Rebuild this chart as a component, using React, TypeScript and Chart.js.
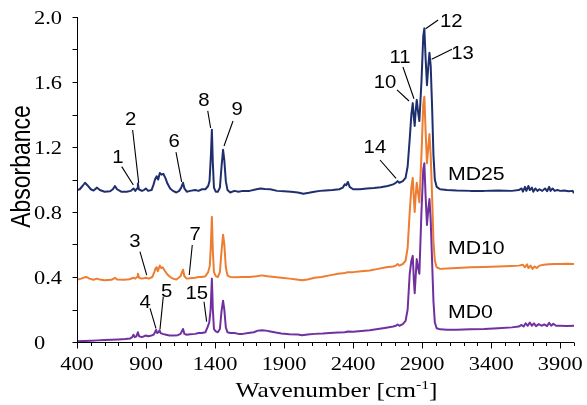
import { useEffect, useRef } from "react";
import { Chart, registerables } from "chart.js";

Chart.register(...registerables);

type Pt = [number, number];

// FTIR absorbance spectra: [wavenumber (cm-1), absorbance]
const md25: Pt[] = [
  [400, 0.935], [420, 0.94], [440, 0.96], [458, 0.98], [475, 0.965], [500, 0.94], [520, 0.932],
  [545, 0.95], [565, 0.935], [600, 0.925], [640, 0.928], [660, 0.94], [675, 0.96], [690, 0.94],
  [720, 0.925], [760, 0.925], [790, 0.93], [809, 0.945], [822, 0.93], [835, 0.945], [841, 0.975],
  [848, 0.94], [870, 0.93], [885, 0.935], [899, 0.945], [915, 0.93], [940, 0.935], [955, 0.97],
  [965, 1.0], [977, 1.02], [988, 1.0], [1000, 1.04], [1012, 1.03], [1025, 1.035], [1040, 1.01],
  [1055, 0.975], [1075, 0.945], [1095, 0.93], [1120, 0.92], [1140, 0.93], [1155, 0.95], [1168, 0.98],
  [1178, 0.945], [1195, 0.925], [1220, 0.93], [1256, 0.935], [1280, 0.93], [1305, 0.94], [1330, 0.94],
  [1350, 0.96], [1360, 0.99], [1370, 1.15], [1377, 1.306], [1384, 1.1], [1392, 0.95], [1405, 0.925],
  [1420, 0.925], [1435, 0.95], [1447, 1.08], [1458, 1.183], [1467, 1.12], [1478, 0.99], [1490, 0.935],
  [1510, 0.92], [1540, 0.93], [1570, 0.925], [1600, 0.93], [1650, 0.93], [1700, 0.94], [1730, 0.945],
  [1760, 0.942], [1800, 0.94], [1850, 0.93], [1900, 0.928], [1950, 0.925], [2000, 0.92], [2040, 0.912],
  [2080, 0.918], [2120, 0.925], [2160, 0.93], [2200, 0.932], [2250, 0.935], [2300, 0.94], [2325, 0.95],
  [2340, 0.97], [2350, 0.965], [2362, 0.985], [2375, 0.955], [2400, 0.94], [2450, 0.94], [2500, 0.945],
  [2550, 0.948], [2600, 0.952], [2650, 0.96], [2690, 0.97], [2710, 0.98], [2722, 0.99], [2735, 0.98],
  [2760, 0.99], [2780, 1.01], [2795, 1.08], [2810, 1.25], [2822, 1.4], [2832, 1.47], [2840, 1.38],
  [2846, 1.33], [2853, 1.42], [2861, 1.49], [2870, 1.42], [2880, 1.36], [2895, 1.6], [2908, 1.88],
  [2916, 1.93], [2925, 1.75], [2935, 1.58], [2945, 1.7], [2953, 1.78], [2962, 1.7], [2972, 1.45],
  [2982, 1.15], [2992, 1.0], [3005, 0.955], [3030, 0.94], [3080, 0.935], [3150, 0.932], [3250, 0.93],
  [3350, 0.93], [3450, 0.932], [3550, 0.93], [3600, 0.935], [3620, 0.945], [3630, 0.925], [3645, 0.955],
  [3655, 0.93], [3670, 0.96], [3680, 0.935], [3695, 0.95], [3705, 0.925], [3720, 0.945], [3735, 0.93],
  [3750, 0.94], [3770, 0.93], [3790, 0.945], [3805, 0.928], [3820, 0.955], [3830, 0.93], [3845, 0.945],
  [3860, 0.93], [3880, 0.935], [3900, 0.93], [3930, 0.932], [3960, 0.928], [3990, 0.93], [4000, 0.915],
];

const md10: Pt[] = [
  [400, 0.383], [430, 0.39], [455, 0.398], [470, 0.4], [490, 0.39], [520, 0.383], [545, 0.39],
  [565, 0.384], [600, 0.38], [650, 0.383], [675, 0.395], [690, 0.385], [740, 0.383], [780, 0.386],
  [809, 0.395], [822, 0.39], [835, 0.4], [841, 0.42], [850, 0.395], [870, 0.39], [899, 0.395],
  [920, 0.39], [945, 0.4], [960, 0.43], [970, 0.455], [977, 0.46], [985, 0.435], [993, 0.455],
  [1000, 0.47], [1010, 0.455], [1020, 0.46], [1035, 0.44], [1055, 0.415], [1075, 0.4], [1095, 0.39],
  [1120, 0.385], [1150, 0.405], [1168, 0.445], [1178, 0.405], [1195, 0.39], [1220, 0.392], [1256, 0.395],
  [1280, 0.4], [1305, 0.4], [1330, 0.405], [1350, 0.43], [1362, 0.47], [1370, 0.6], [1377, 0.77],
  [1384, 0.56], [1392, 0.43], [1405, 0.405], [1420, 0.4], [1435, 0.43], [1447, 0.56], [1458, 0.66],
  [1467, 0.6], [1478, 0.46], [1490, 0.41], [1510, 0.4], [1550, 0.398], [1600, 0.4], [1650, 0.4],
  [1700, 0.405], [1740, 0.41], [1780, 0.405], [1830, 0.4], [1880, 0.395], [1940, 0.39], [1990, 0.385],
  [2030, 0.38], [2070, 0.385], [2120, 0.395], [2170, 0.4], [2230, 0.41], [2290, 0.42], [2340, 0.425],
  [2362, 0.43], [2400, 0.43], [2460, 0.435], [2520, 0.44], [2580, 0.45], [2640, 0.46], [2690, 0.465],
  [2710, 0.47], [2722, 0.48], [2735, 0.47], [2760, 0.48], [2780, 0.5], [2795, 0.58], [2810, 0.8],
  [2822, 0.95], [2832, 1.01], [2840, 0.88], [2846, 0.8], [2853, 0.9], [2861, 0.98], [2870, 0.92],
  [2880, 0.86], [2895, 1.15], [2908, 1.46], [2916, 1.51], [2925, 1.3], [2935, 1.1], [2945, 1.2],
  [2953, 1.28], [2962, 1.15], [2972, 0.9], [2982, 0.62], [2992, 0.5], [3005, 0.46], [3030, 0.45],
  [3080, 0.452], [3150, 0.455], [3250, 0.46], [3350, 0.462], [3450, 0.465], [3550, 0.468], [3600, 0.47],
  [3630, 0.475], [3645, 0.46], [3660, 0.478], [3670, 0.455], [3685, 0.47], [3700, 0.45], [3715, 0.465],
  [3730, 0.455], [3750, 0.47], [3780, 0.475], [3820, 0.478], [3860, 0.48], [3900, 0.48], [3950, 0.482],
  [4000, 0.48],
];

const md0: Pt[] = [
  [400, 0.004], [450, 0.006], [500, 0.008], [550, 0.01], [600, 0.012], [650, 0.014], [700, 0.016],
  [750, 0.018], [785, 0.022], [800, 0.03], [809, 0.045], [818, 0.03], [830, 0.035], [841, 0.06],
  [850, 0.035], [870, 0.03], [899, 0.04], [915, 0.035], [940, 0.04], [955, 0.045], [965, 0.06],
  [973, 0.075], [980, 0.055], [990, 0.06], [998, 0.072], [1006, 0.055], [1020, 0.05], [1045, 0.045],
  [1070, 0.04], [1095, 0.04], [1130, 0.042], [1150, 0.05], [1168, 0.08], [1178, 0.05], [1195, 0.045],
  [1220, 0.048], [1256, 0.05], [1280, 0.055], [1305, 0.055], [1330, 0.06], [1345, 0.09], [1358, 0.12],
  [1368, 0.2], [1377, 0.39], [1384, 0.2], [1392, 0.08], [1405, 0.065], [1420, 0.06], [1435, 0.08],
  [1447, 0.19], [1458, 0.254], [1467, 0.2], [1478, 0.09], [1490, 0.06], [1510, 0.055], [1540, 0.055],
  [1570, 0.05], [1600, 0.05], [1640, 0.055], [1680, 0.06], [1710, 0.07], [1740, 0.072], [1770, 0.07],
  [1800, 0.065], [1840, 0.058], [1880, 0.052], [1940, 0.048], [2000, 0.046], [2030, 0.042], [2070, 0.046],
  [2120, 0.05], [2180, 0.052], [2230, 0.055], [2290, 0.058], [2340, 0.06], [2362, 0.065], [2400, 0.063],
  [2460, 0.068], [2520, 0.072], [2580, 0.08], [2640, 0.088], [2690, 0.095], [2710, 0.1], [2722, 0.108],
  [2735, 0.1], [2760, 0.11], [2780, 0.13], [2795, 0.2], [2810, 0.42], [2822, 0.5], [2832, 0.53],
  [2840, 0.38], [2846, 0.3], [2853, 0.4], [2861, 0.51], [2870, 0.46], [2880, 0.42], [2895, 0.8],
  [2908, 1.06], [2916, 1.1], [2925, 0.9], [2935, 0.72], [2945, 0.82], [2953, 0.88], [2962, 0.75],
  [2972, 0.5], [2982, 0.25], [2992, 0.12], [3005, 0.085], [3030, 0.078], [3080, 0.075], [3150, 0.075],
  [3250, 0.078], [3350, 0.08], [3450, 0.085], [3550, 0.09], [3600, 0.095], [3620, 0.105], [3635, 0.095],
  [3650, 0.115], [3665, 0.1], [3680, 0.12], [3695, 0.1], [3710, 0.115], [3725, 0.098], [3745, 0.11],
  [3765, 0.1], [3785, 0.108], [3805, 0.098], [3820, 0.118], [3835, 0.1], [3850, 0.112], [3870, 0.1],
  [3900, 0.1], [3950, 0.098], [4000, 0.1],
];

const seriesNames = ["MD0", "MD10", "MD25"];
const seriesColors = ["#7030a0", "#ed7d31", "#1f2f6e"];
const seriesData = [md0, md10, md25];

// Axis ticks
const xMajorTicks = [400, 900, 1400, 1900, 2400, 2900, 3400, 3900];
const xMinorStep = 100;
const yTickValues = [0, 0.2, 0.4, 0.6, 0.8, 1.0, 1.2, 1.4, 1.6, 1.8, 2.0];
const yLabelValues = [0, 0.4, 0.8, 1.2, 1.6, 2.0];
const yLabelTexts = ["0", "0.4", "0.8", "1.2", "1.6", "2.0"];

// Numbered band assignments: label spot, leader start, leader end (data units)
type Note = { text: string; at: Pt; from: Pt; to: Pt };
const peakNotes: Note[] = [
  { text: "1", at: [697, 1.14], from: [724, 1.079], to: [808, 0.966] },
  { text: "2", at: [789, 1.377], from: [803, 1.305], to: [847, 0.978] },
  { text: "6", at: [1103, 1.243], from: [1117, 1.169], to: [1158, 0.985] },
  { text: "8", at: [1320, 1.494], from: [1347, 1.422], to: [1368, 1.317] },
  { text: "9", at: [1561, 1.438], from: [1530, 1.36], to: [1465, 1.206] },
  { text: "10", at: [2631, 1.602], from: [2718, 1.551], to: [2805, 1.483] },
  { text: "11", at: [2740, 1.756], from: [2761, 1.692], to: [2841, 1.497] },
  { text: "12", at: [3111, 1.977], from: [3016, 1.982], to: [2925, 1.928] },
  { text: "13", at: [3192, 1.783], from: [3116, 1.801], to: [2969, 1.74] },
  { text: "14", at: [2558, 1.202], from: [2595, 1.12], to: [2711, 1.007] },
  { text: "3", at: [820, 0.628], from: [856, 0.556], to: [905, 0.412] },
  { text: "7", at: [1255, 0.669], from: [1235, 0.597], to: [1213, 0.412] },
  { text: "4", at: [893, 0.248], from: [929, 0.207], to: [972, 0.084] },
  { text: "5", at: [1050, 0.32], from: [1025, 0.279], to: [1001, 0.078] },
  { text: "15", at: [1267, 0.303], from: [1320, 0.248], to: [1339, 0.125] },
];

// Sample names written beside each trace (left edge, vertical middle)
const seriesTags: { text: string; at: Pt }[] = [
  { text: "MD25", at: [3087, 1.038] },
  { text: "MD10", at: [3087, 0.582] },
  { text: "MD0", at: [3087, 0.186] },
];

const SERIF = '"Liberation Serif", "Times New Roman", serif';
const SANS = '"Liberation Sans", Arial, sans-serif';
const WIDE = 1.18;

function wideText(
  ctx: CanvasRenderingContext2D,
  s: string,
  x: number,
  y: number,
  align: CanvasTextAlign,
  sx: number
) {
  ctx.save();
  ctx.translate(x, y);
  ctx.scale(sx, 1);
  ctx.textAlign = align;
  ctx.textBaseline = "alphabetic";
  ctx.fillText(s, 0, 0);
  ctx.restore();
}

const axesAndText = {
  id: "axesAndText",
  afterDraw(chart: any) {
    const ctx: CanvasRenderingContext2D = chart.ctx;
    const xs = chart.scales.x;
    const ys = chart.scales.y;
    const area = chart.chartArea;
    const L = Math.round(area.left) + 0.5;
    const B = Math.round(area.bottom) + 0.5;
    ctx.save();
    ctx.strokeStyle = "#000";
    ctx.fillStyle = "#000";
    ctx.lineWidth = 1;

    // axis lines
    ctx.beginPath();
    ctx.moveTo(L, Math.round(area.top));
    ctx.lineTo(L, B);
    ctx.lineTo(Math.round(area.right), B);
    ctx.stroke();

    // x ticks (major every 500, minor every 100)
    ctx.beginPath();
    for (let v = xs.min; v <= xs.max + 1e-6; v += xMinorStep) {
      const px = Math.round(xs.getPixelForValue(v)) + 0.5;
      const len = xMajorTicks.includes(v) ? 6 : 3.5;
      ctx.moveTo(px, B);
      ctx.lineTo(px, B + len);
    }
    // y ticks
    for (const v of yTickValues) {
      const py = Math.round(ys.getPixelForValue(v)) + 0.5;
      ctx.moveTo(L, py);
      ctx.lineTo(L - 5, py);
    }
    ctx.stroke();

    // tick labels
    ctx.font = `19px ${SERIF}`;
    xMajorTicks.forEach((v) => {
      wideText(ctx, String(v), xs.getPixelForValue(v), B + 27, "center", WIDE);
    });
    yLabelValues.forEach((v, i) => {
      wideText(ctx, yLabelTexts[i], area.left - 43, ys.getPixelForValue(v) + 6.5, "left", WIDE);
    });

    // y axis title
    ctx.save();
    ctx.font = `23px ${SANS}`;
    ctx.translate(30, (area.top + area.bottom) / 2 - 13);
    ctx.rotate(-Math.PI / 2);
    ctx.scale(1, 1.2);
    ctx.textAlign = "center";
    ctx.textBaseline = "alphabetic";
    ctx.fillText("Absorbance", 0, 0);
    ctx.restore();

    // x axis title with superscript
    {
      const main = "Wavenumber [cm";
      const sup = "-1";
      const end = "]";
      const fs = 21.5;
      ctx.font = `${fs}px ${SERIF}`;
      const wMain = ctx.measureText(main).width * WIDE;
      const wEnd = ctx.measureText(end).width * WIDE;
      ctx.font = `${fs * 0.62}px ${SERIF}`;
      const wSup = ctx.measureText(sup).width * WIDE;
      const total = wMain + wSup + wEnd;
      const cx = (area.left + area.right) / 2 + 11;
      const base = B + 54;
      let x0 = cx - total / 2;
      ctx.font = `${fs}px ${SERIF}`;
      wideText(ctx, main, x0, base, "left", WIDE);
      x0 += wMain;
      ctx.font = `${fs * 0.62}px ${SERIF}`;
      wideText(ctx, sup, x0, base - 8, "left", WIDE);
      x0 += wSup;
      ctx.font = `${fs}px ${SERIF}`;
      wideText(ctx, end, x0, base, "left", WIDE);
    }

    // numbered bands with leader lines
    ctx.lineWidth = 1.1;
    ctx.beginPath();
    for (const n of peakNotes) {
      ctx.moveTo(xs.getPixelForValue(n.from[0]), ys.getPixelForValue(n.from[1]));
      ctx.lineTo(xs.getPixelForValue(n.to[0]), ys.getPixelForValue(n.to[1]));
    }
    ctx.stroke();
    ctx.font = `18.5px ${SANS}`;
    for (const n of peakNotes) {
      wideText(ctx, n.text, xs.getPixelForValue(n.at[0]), ys.getPixelForValue(n.at[1]) + 6.6, "center", 1.1);
    }

    // sample names
    ctx.font = `18.5px ${SANS}`;
    for (const t of seriesTags) {
      wideText(ctx, t.text, xs.getPixelForValue(t.at[0]), ys.getPixelForValue(t.at[1]) + 6.6, "left", 1.15);
    }
    ctx.restore();
  },
};

export default function App() {
  const canvasRef = useRef<HTMLCanvasElement | null>(null);

  useEffect(() => {
    const canvas = canvasRef.current;
    if (!canvas) return;
    const chart = new Chart(canvas, {
      type: "line",
      data: {
        datasets: seriesData.map((d, i) => ({
          label: seriesNames[i],
          data: d.map(([x, y]) => ({ x, y })),
          borderColor: seriesColors[i],
          backgroundColor: seriesColors[i],
          borderWidth: 2,
          borderJoinStyle: "round" as const,
          pointRadius: 0,
          tension: 0,
          fill: false,
        })),
      },
      options: {
        animation: false,
        responsive: true,
        maintainAspectRatio: false,
        events: [],
        layout: { padding: { top: 17, right: 13, left: 0, bottom: 0 } },
        plugins: { legend: { display: false }, tooltip: { enabled: false } },
        scales: {
          x: {
            type: "linear",
            min: 400,
            max: 4000,
            ticks: { display: false },
            grid: { display: false },
            border: { display: false },
            afterFit: (s: any) => {
              s.height = 63;
            },
          },
          y: {
            type: "linear",
            min: 0,
            max: 2,
            ticks: { display: false },
            grid: { display: false },
            border: { display: false },
            afterFit: (s: any) => {
              s.width = 77;
            },
          },
        },
      },
      plugins: [axesAndText],
    });
    return () => chart.destroy();
  }, []);

  return (
    <div
      style={{
        position: "fixed",
        left: 0,
        top: 0,
        width: 587,
        height: 405,
        background: "#fff",
      }}
    >
      <canvas ref={canvasRef} />
    </div>
  );
}
